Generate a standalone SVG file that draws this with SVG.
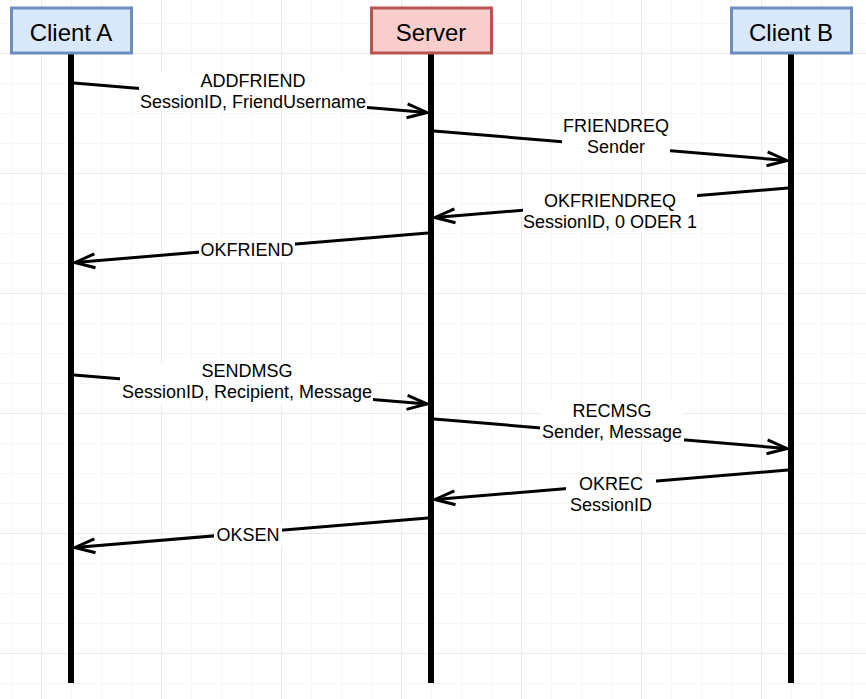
<svg xmlns="http://www.w3.org/2000/svg" width="866" height="699" viewBox="0 0 866 699">
  <style>
    .hdr { font-family: "Liberation Sans", Arial, sans-serif; font-size: 24px; text-anchor: middle; fill: #000; }
    .lbl { font-family: "Liberation Sans", Arial, sans-serif; font-size: 18px; text-anchor: middle; fill: #000; }
    .client { fill: #dae8fc; stroke: #6c8ebf; stroke-width: 3; }
    .server { fill: #f8cecc; stroke: #b85450; stroke-width: 3; }
    .life { stroke: #000; stroke-width: 6; fill: none; }
    .msg { stroke: #000; stroke-width: 3; fill: none; marker-end: url(#arr); }
    .bg { fill: #fff; }
  </style>
  <defs>
    <marker id="arr" markerUnits="userSpaceOnUse" orient="auto" markerWidth="30" markerHeight="24" viewBox="-24 -12 30 24" refX="0" refY="0" overflow="visible">
      <path d="M-20,-7 L0,0 L-20,7" fill="none" stroke="#000" stroke-width="3" stroke-linejoin="miter"/>
    </marker>
    <pattern id="grid" patternUnits="userSpaceOnUse" x="41" y="53" width="120" height="120">
      <path d="M30.5,0 V120 M60.5,0 V120 M90.5,0 V120 M0,30.5 H120 M0,60.5 H120 M0,90.5 H120" stroke="#f6f6f6" stroke-width="1" fill="none"/>
      <path d="M0.5,0 V120 M0,0.5 H120" stroke="#ebebeb" stroke-width="1" fill="none"/>
    </pattern>
  </defs>
  <rect width="866" height="699" fill="#fff"/>
  <rect width="866" height="699" fill="url(#grid)"/>

  <g id="clientA">
    <line class="life" x1="71" y1="54" x2="71" y2="683"/>
    <rect class="client" x="11.5" y="8" width="120" height="45"/>
    <text class="hdr" x="71" y="40.7">Client A</text>
  </g>
  <g id="server">
    <line class="life" x1="431" y1="54" x2="431" y2="683"/>
    <rect class="server" x="371.5" y="8" width="120" height="45"/>
    <text class="hdr" x="431" y="40.7">Server</text>
  </g>
  <g id="clientB">
    <line class="life" x1="791" y1="54" x2="791" y2="683"/>
    <rect class="client" x="731.5" y="8" width="120" height="45"/>
    <text class="hdr" x="791" y="40.7">Client B</text>
  </g>

  <g id="connectors">
    <g id="e1">
      <line class="msg" x1="74" y1="83" x2="427" y2="112.5"/>
      <rect class="bg" x="139" y="72" width="228" height="40"/>
      <text class="lbl" x="253" y="86.7">ADDFRIEND</text>
      <text class="lbl" x="253" y="107.7">SessionID, FriendUsername</text>
    </g>
    <g id="e2">
      <line class="msg" x1="434" y1="131" x2="787" y2="160.5"/>
      <rect class="bg" x="562" y="117" width="108" height="40"/>
      <text class="lbl" x="616" y="131.7">FRIENDREQ</text>
      <text class="lbl" x="616" y="152.7">Sender</text>
    </g>
    <g id="e3">
      <line class="msg" x1="788" y1="188" x2="435" y2="217.5"/>
      <rect class="bg" x="523" y="192" width="174" height="40"/>
      <text class="lbl" x="610" y="206.7">OKFRIENDREQ</text>
      <text class="lbl" x="610" y="227.7">SessionID, 0 ODER 1</text>
    </g>
    <g id="e4">
      <line class="msg" x1="428" y1="233" x2="75" y2="262.5"/>
      <rect class="bg" x="199" y="240" width="96" height="21"/>
      <text class="lbl" x="247" y="255.7">OKFRIEND</text>
    </g>
    <g id="e5">
      <line class="msg" x1="74" y1="375" x2="427" y2="404"/>
      <rect class="bg" x="120" y="363" width="253" height="40"/>
      <text class="lbl" x="247" y="377.3">SENDMSG</text>
      <text class="lbl" x="247" y="398.3">SessionID, Recipient, Message</text>
    </g>
    <g id="e6">
      <line class="msg" x1="434" y1="419" x2="787" y2="448.5"/>
      <rect class="bg" x="540" y="402" width="144" height="40"/>
      <text class="lbl" x="612" y="416.7">RECMSG</text>
      <text class="lbl" x="612" y="437.7">Sender, Message</text>
    </g>
    <g id="e7">
      <line class="msg" x1="788" y1="470" x2="435" y2="499.5"/>
      <rect class="bg" x="566" y="475" width="90" height="40"/>
      <text class="lbl" x="611" y="490">OKREC</text>
      <text class="lbl" x="611" y="511">SessionID</text>
    </g>
    <g id="e8">
      <line class="msg" x1="428" y1="518" x2="75" y2="547.5"/>
      <rect class="bg" x="214" y="525" width="68" height="21"/>
      <text class="lbl" x="248" y="541">OKSEN</text>
    </g>
  </g>
</svg>
